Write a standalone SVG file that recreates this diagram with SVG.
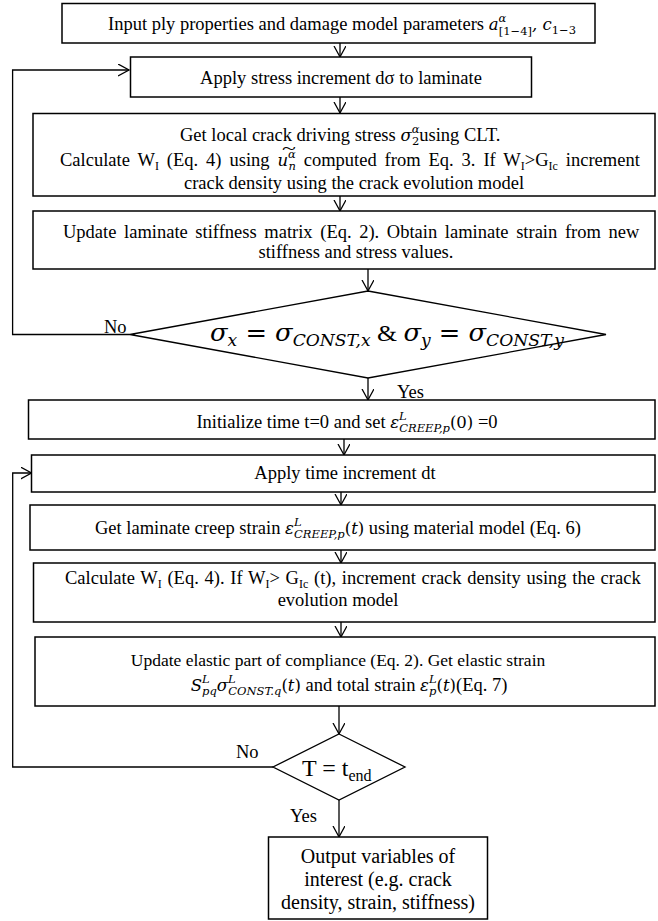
<svg xmlns="http://www.w3.org/2000/svg" width="658" height="921" viewBox="0 0 658 921">
<defs>
<marker id="ah" markerUnits="userSpaceOnUse" markerWidth="14" markerHeight="14" refX="11" refY="6" orient="auto">
<path d="M0,0 L11,6 L0,12" fill="none" stroke="#000" stroke-width="1.3"/>
</marker>
<style>
.box{fill:#fff;stroke:#000;stroke-width:1.5}
.dia{fill:#fff;stroke:#000;stroke-width:1.3}
.c{fill:none;stroke:#000;stroke-width:1.3}
.t{font-family:"Liberation Serif","Times New Roman",serif;font-size:18.5px;fill:#000}
.tc{text-anchor:middle}
.s{font-size:12px}
.m{font-family:"DejaVu Serif",serif;font-style:italic;font-size:16.5px}
.ms{font-family:"DejaVu Serif",serif;font-style:italic;font-size:11.5px}
.up{font-style:normal}
.big{font-size:20px}
.dm{font-family:"DejaVu Serif",serif;font-style:italic;font-size:24px}
.ds{font-size:16px}
</style>
</defs>
<rect width="658" height="921" fill="#fff"/>
<g id="connectors">
<line class="c" x1="340" y1="43" x2="340" y2="57" marker-end="url(#ah)"/>
<line class="c" x1="340" y1="97" x2="340" y2="113" marker-end="url(#ah)"/>
<line class="c" x1="340" y1="196" x2="340" y2="211" marker-end="url(#ah)"/>
<line class="c" x1="368" y1="269" x2="368" y2="291" marker-end="url(#ah)"/>
<polyline class="c" points="130,334.5 12.6,334.5 12.6,70 129,70" marker-end="url(#ah)"/>
<line class="c" x1="368" y1="378" x2="368" y2="400" marker-end="url(#ah)"/>
<line class="c" x1="344" y1="439" x2="344" y2="455" marker-end="url(#ah)"/>
<line class="c" x1="341" y1="492" x2="341" y2="505" marker-end="url(#ah)"/>
<line class="c" x1="341" y1="550" x2="341" y2="563" marker-end="url(#ah)"/>
<line class="c" x1="341" y1="622" x2="341" y2="637" marker-end="url(#ah)"/>
<line class="c" x1="339" y1="706" x2="339" y2="734" marker-end="url(#ah)"/>
<polyline class="c" points="273,767 12.7,767 12.7,473 31.5,473" marker-end="url(#ah)"/>
<line class="c" x1="339" y1="800" x2="339" y2="837" marker-end="url(#ah)"/>
</g>
<g id="n1">
<rect class="box" x="62" y="3.5" width="533" height="39.5"/>
<text class="t" x="108" y="30">Input ply properties and damage model parameters <tspan class="m">a</tspan><tspan class="ms" dy="-8">α</tspan><tspan class="ms up" dx="-7.5" dy="13">[1−4]</tspan><tspan class="m" dy="-5">, c</tspan><tspan class="ms up" dy="4">1−3</tspan></text>
</g>
<g id="n2">
<rect class="box" x="130.5" y="57" width="401" height="40"/>
<text class="t tc" x="341" y="84">Apply stress increment dσ to laminate</text>
</g>
<g id="n3">
<rect class="box" x="33" y="113.5" width="622" height="82.5"/>
<text class="t" x="180" y="141">Get local crack driving stress <tspan class="m">σ</tspan><tspan class="ms" dy="-8">α</tspan><tspan class="ms up" dx="-7.5" dy="12">2</tspan><tspan dy="-4">using CLT.</tspan></text>
<text class="t" x="60" y="166" style="word-spacing:3.3px">Calculate W<tspan class="s" dy="4">I</tspan><tspan dy="-4"> (Eq. 4) using </tspan><tspan class="m">u</tspan><tspan class="ms" dy="-8">α</tspan><tspan class="ms" dx="-7.5" dy="12">n</tspan><tspan dy="-4"> computed from Eq. 3. If W</tspan><tspan class="s" dy="4">I</tspan><tspan dy="-4">&gt;G</tspan><tspan class="s" dy="4">Ic</tspan><tspan dy="-4"> increment</tspan></text>
<text class="t" transform="translate(289,154) scale(1.6,1)" x="0" y="0" text-anchor="middle" style="font-size:16px">~</text>
<text class="t tc" x="354" y="189">crack density using the crack evolution model</text>
</g>
<g id="n4">
<rect class="box" x="33" y="211" width="622" height="58"/>
<text class="t" x="63" y="238" style="word-spacing:3px">Update laminate stiffness matrix (Eq. 2). Obtain laminate strain from new</text>
<text class="t tc" x="356" y="258">stiffness and stress values.</text>
</g>
<g id="d1">
<polygon class="dia" points="368,291 606,334.5 368,378 130,334.5"/>
<text class="dm" x="210" y="341" textLength="354" lengthAdjust="spacingAndGlyphs">σ<tspan class="ds" dy="5">x</tspan><tspan class="up" dy="-5"> = </tspan>σ<tspan class="ds" dy="5">CONST,x</tspan><tspan dy="-5" style="font-family:'Liberation Serif',serif;font-style:normal"> &amp; </tspan>σ<tspan class="ds" dy="5">y</tspan><tspan class="up" dy="-5"> = </tspan>σ<tspan class="ds" dy="5">CONST,y</tspan></text>
<text class="t" x="104" y="333">No</text>
<text class="t" x="397" y="398">Yes</text>
</g>
<g id="n5">
<rect class="box" x="28.5" y="400" width="626.5" height="39"/>
<text class="t tc" x="347" y="428">Initialize time t=0 and set <tspan class="m">ε</tspan><tspan class="ms" dy="-8">L</tspan><tspan class="ms" dx="-7.5" dy="12">CREEP,p</tspan><tspan class="m up" dy="-4">(0)</tspan> =0</text>
</g>
<g id="n6">
<rect class="box" x="31.5" y="455" width="623.5" height="37"/>
<text class="t tc" x="345" y="479">Apply time increment dt</text>
</g>
<g id="n7">
<rect class="box" x="30" y="505" width="625" height="45"/>
<text class="t tc" x="338" y="534">Get laminate creep strain <tspan class="m">ε</tspan><tspan class="ms" dy="-8">L</tspan><tspan class="ms" dx="-7.5" dy="12">CREEP,p</tspan><tspan class="m up" dy="-4">(</tspan><tspan class="m">t</tspan><tspan class="m up">)</tspan> using material model (Eq. 6)</text>
</g>
<g id="n8">
<rect class="box" x="33.5" y="563" width="621.5" height="59"/>
<text class="t" x="65" y="584" style="word-spacing:1.1px">Calculate W<tspan class="s" dy="4">I</tspan><tspan dy="-4"> (Eq. 4). If W</tspan><tspan class="s" dy="4">I</tspan><tspan dy="-4">&gt; G</tspan><tspan class="s" dy="4">Ic</tspan><tspan dy="-4"> (t), increment crack density using the crack</tspan></text>
<text class="t tc" x="338" y="606">evolution model</text>
</g>
<g id="n9">
<rect class="box" x="35" y="637" width="620" height="69"/>
<text class="t tc" x="338" y="666" style="font-size:17.5px">Update elastic part of compliance (Eq. 2). Get elastic strain</text>
<text class="t tc" x="349" y="691"><tspan class="m">S</tspan><tspan class="ms" dy="-8">L</tspan><tspan class="ms" dx="-7.5" dy="12">pq</tspan><tspan class="m" dy="-4">σ</tspan><tspan class="ms" dy="-8">L</tspan><tspan class="ms" dx="-7.5" dy="12">CONST.q</tspan><tspan class="m up" dy="-4">(</tspan><tspan class="m">t</tspan><tspan class="m up">)</tspan> and total strain <tspan class="m">ε</tspan><tspan class="ms" dy="-8">L</tspan><tspan class="ms" dx="-7.5" dy="12">p</tspan><tspan class="m up" dy="-4">(</tspan><tspan class="m">t</tspan><tspan class="m up">)</tspan>(Eq. 7)</text>
</g>
<g id="d2">
<polygon class="dia" points="339,734 405,767 339,800 273,767"/>
<text class="t" x="302" y="776" style="font-size:24px">T = t<tspan class="ds" dy="5">end</tspan></text>
<text class="t" x="236" y="758">No</text>
<text class="t" x="290" y="822">Yes</text>
</g>
<g id="n10">
<rect class="box" x="268.5" y="837" width="219" height="82"/>
<text class="t tc big" x="378" y="863">Output variables of</text>
<text class="t tc big" x="378" y="886">interest (e.g. crack</text>
<text class="t tc big" x="378" y="909">density, strain, stiffness)</text>
</g>
</svg>
